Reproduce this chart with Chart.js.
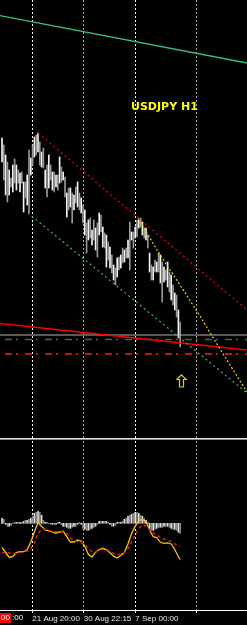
<!DOCTYPE html>
<html>
<head>
<meta charset="utf-8">
<title>USDJPY H1</title>
<script src="https://cdn.jsdelivr.net/npm/chart.js@4.4.1/dist/chart.umd.min.js"></script>
<style>
  html, body { margin: 0; padding: 0; background: #000; overflow: hidden; }
  #wrap { position: relative; width: 247px; height: 625px; background: #000; }
  #price { position: absolute; left: 0; top: 0; }
  #sep { position: absolute; left: 0; top: 438px; width: 247px; height: 1px; background: #e0e0e0; border-bottom: 1px solid #8c8c8c; }
  #osc { position: absolute; left: 0; top: 441px; }
</style>
</head>
<body>
<div id="wrap">
  <canvas id="price" width="247" height="438"></canvas>
  <div id="sep"></div>
  <canvas id="osc" width="247" height="184"></canvas>
</div>
<script>
// Price bars (H1), one per bar index
const highs = [78.910, 78.875, 78.825, 78.790, 78.750, 78.710, 78.775, 78.805, 78.775, 78.750,
  78.735, 78.740, 78.690, 78.690, 78.725, 78.850, 78.810, 78.875, 78.915, 78.925,
  78.935, 78.890, 78.840, 78.860, 78.750, 78.775, 78.825, 78.775, 78.740, 78.740,
  78.725, 78.725, 78.815, 78.765, 78.740, 78.715, 78.635, 78.660, 78.660, 78.635,
  78.625, 78.665, 78.690, 78.635, 78.610, 78.575, 78.550, 78.485, 78.500, 78.510,
  78.450, 78.500, 78.460, 78.485, 78.535, 78.525, 78.465, 78.435, 78.425, 78.390,
  78.365, 78.325, 78.275, 78.260, 78.310, 78.315, 78.325, 78.360, 78.350, 78.360,
  78.400, 78.490, 78.440, 78.440, 78.465, 78.500, 78.500, 78.510, 78.490, 78.460,
  78.460, 78.425, 78.335, 78.275, 78.265, 78.300, 78.290, 78.335, 78.325, 78.290,
  78.265, 78.250, 78.290, 78.240, 78.225, 78.175, 78.135, 78.125, 78.050, 77.990];
const lows = [78.790, 78.700, 78.625, 78.590, 78.625, 78.665, 78.640, 78.685, 78.650, 78.685,
  78.640, 78.685, 78.540, 78.610, 78.575, 78.535, 78.725, 78.775, 78.815, 78.825,
  78.840, 78.775, 78.765, 78.760, 78.660, 78.615, 78.660, 78.700, 78.650, 78.640,
  78.665, 78.650, 78.685, 78.690, 78.700, 78.615, 78.515, 78.550, 78.565, 78.485,
  78.550, 78.585, 78.565, 78.550, 78.535, 78.485, 78.425, 78.335, 78.400, 78.410,
  78.375, 78.400, 78.350, 78.315, 78.425, 78.440, 78.365, 78.360, 78.265, 78.300,
  78.260, 78.235, 78.200, 78.175, 78.215, 78.250, 78.260, 78.285, 78.290, 78.310,
  78.310, 78.250, 78.400, 78.360, 78.410, 78.415, 78.460, 78.465, 78.425, 78.410,
  78.400, 78.360, 78.240, 78.200, 78.200, 78.240, 78.240, 78.240, 78.185, 78.090,
  78.190, 78.200, 78.165, 78.140, 78.100, 78.075, 78.050, 78.015, 77.910, 77.865];

// Histogram (lower window), one per bar index
const histValues = [0.05, 0.04, -0.01, -0.03, -0.03, -0.02, 0.00, 0.01, 0.01, 0.01,
  0.01, 0.01, 0.02, 0.03, 0.03, 0.04, 0.05, 0.07, 0.10, 0.11,
  0.12, 0.11, 0.08, 0.03, 0.01, 0.01, 0.00, -0.01, -0.01, -0.01,
  -0.01, 0.01, 0.01, -0.01, -0.03, -0.03, -0.04, -0.05, -0.05, -0.04,
  -0.03, -0.03, -0.01, 0.01, -0.01, -0.05, -0.06, -0.07, -0.07, -0.06,
  -0.05, -0.04, -0.03, -0.01, 0.02, 0.02, 0.02, 0.02, 0.02, 0.01,
  -0.01, -0.03, -0.03, -0.02, 0.01, 0.01, 0.01, 0.02, 0.04, 0.05,
  0.07, 0.08, 0.09, 0.10, 0.11, 0.11, 0.10, 0.08, 0.07, 0.05,
  0.03, 0.01, -0.06, -0.07, -0.07, -0.06, -0.05, -0.04, -0.04, -0.04,
  -0.03, -0.03, -0.03, -0.04, -0.05, -0.06, -0.06, -0.07, -0.09, -0.10];

// Oscillator lines (lower window), sampled every second bar
const oscBars = [0, 2, 4, 6, 8, 10, 12, 14, 16, 18, 20, 22, 24, 26, 28, 30, 32, 34, 36, 38,
  40, 42, 44, 46, 48, 50, 52, 54, 56, 58, 60, 62, 64, 66, 68, 70, 72, 74, 76, 78,
  80, 82, 84, 86, 88, 90, 92, 94, 96, 98, 99];
const oscMain = [32.5, 27.5, 22.5, 23.5, 27.5, 28.3, 28.3, 30.5, 38, 48, 57.5, 53.5, 50, 49.2, 48,
  46.8, 48, 48.8, 43.3, 38, 38, 40, 39, 33.7, 25.5, 23, 27.8, 30.5, 31.7, 30.2,
  27.3, 23.8, 22, 24.4, 27.7, 36, 46.5, 53.7, 59.5, 60.6, 58.5, 50, 43.3, 42.5, 37.7,
  36.7, 37.2, 36, 30.5, 23.3, 20.5];
const oscSignal = [27, 28.2, 27, 26.7, 26.7, 27.3, 28, 29, 31.5, 37, 46.5, 51, 50.7, 49.5, 48.9,
  48.4, 48.3, 48, 46.7, 42, 39.4, 38.3, 38.3, 35, 31.5, 28.2, 28.2, 29.5, 30.6, 30.3,
  29, 26.6, 25.4, 25.5, 27.5, 31.2, 38, 45.5, 51.3, 55.2, 54, 50.3, 46.8, 45, 42.4,
  41, 39.7, 38.5, 36.2, 34.3, 33.3];

// Chart objects: [bar index, price]
const greenTrend = [[-1.11, 79.522], [136.11, 79.285]];
const redChannel = [[20, 78.935], [136.11, 78.05]];
const greenChannel = [[14.4, 78.535], [136.11, 77.635]];
const yellowCurve = [[75.6, 78.51], [87.8, 78.325], [98.9, 78.175], [110, 78.02], [121.1, 77.855], [136.11, 77.64]];
const redTrend = [[-1.11, 77.982], [136.11, 77.85]];
const grayLevel = 77.925;
const greenLevel = 77.9025;
const redLevel = 77.83;
const arrowMark = [99.7, 77.695];

// Time axis
const gridBars = [16.83, 45.39, 74.06, 108.17];
const timeLabels = ['21 Aug 20:00', '30 Aug 22:15', '7 Sep 00:00', ''];

const xMin = -1.111, xMax = 136.111;
const gridColors = ['#ffffff', '#a8a8a8', '#ffffff', '#a8a8a8'];

const toXY = pts => pts.map(p => ({ x: p[0], y: p[1] }));

function lineSet(pts, color, width, dash) {
  return {
    type: 'line', data: toXY(pts), borderColor: color, borderWidth: width,
    borderDash: dash || [], pointRadius: 0, fill: false, tension: 0, order: 1
  };
}

// hollow up arrow used as a point style
const arrowImg = document.createElement('canvas');
arrowImg.width = 11; arrowImg.height = 14;
(function () {
  const g = arrowImg.getContext('2d');
  g.strokeStyle = '#e8cc00';
  g.lineWidth = 1.2;
  g.beginPath();
  g.moveTo(5.5, 0.8); g.lineTo(10.2, 5.5); g.lineTo(7.5, 5.5); g.lineTo(7.5, 13);
  g.lineTo(3.5, 13); g.lineTo(3.5, 5.5); g.lineTo(0.8, 5.5); g.closePath();
  g.stroke();
})();

const titleLabel = {
  id: 'titleLabel',
  afterDatasetsDraw(chart) {
    const ctx = chart.ctx;
    ctx.save();
    ctx.font = 'bold 11px "DejaVu Sans"';
    ctx.fillStyle = '#ffff00';
    ctx.textBaseline = 'alphabetic';
    ctx.fillText('USDJPY H1', 131, 110);
    ctx.restore();
  }
};

const cornerLabel = {
  id: 'cornerLabel',
  afterDraw(chart) {
    const ctx = chart.ctx;
    const y = chart.chartArea.bottom;
    ctx.save();
    ctx.fillStyle = '#ff0000';
    ctx.fillRect(0, y + 3, 11, 10);
    ctx.font = '8px "Liberation Sans"';
    ctx.fillStyle = '#ffffff';
    ctx.textBaseline = 'top';
    ctx.fillText('00', 1, y + 4);
    ctx.fillText(':00', 12, y + 4);
    ctx.restore();
  }
};

const gridX = {
  type: 'linear', min: xMin, max: xMax, offset: false,
  afterBuildTicks: s => { s.ticks = gridBars.map(v => ({ value: v })); },
  grid: { color: ctx => gridColors[ctx.index] || '#ffffff', lineWidth: 1, offset: false },
  border: { display: false, dash: [2, 2] }
};

// Price window
new Chart(document.getElementById('price'), {
  type: 'bar',
  data: {
    datasets: [
      {
        type: 'bar',
        data: highs.map((h, i) => ({ x: i, y: [lows[i], h] })),
        backgroundColor: highs.map((h, i) => i % 2 ? '#9a9a9a' : '#f4f4f4'),
        borderWidth: 0, barThickness: 1, order: 5
      },
      lineSet(greenTrend, '#33c27a', 1.3),
      lineSet(redChannel, '#e00000', 1.3, [2, 3]),
      lineSet(greenChannel, '#3cb371', 1.2, [2, 3]),
      lineSet(yellowCurve, '#f0d000', 1.2, [2, 2]),
      lineSet(redTrend, '#ff0000', 1.5),
      lineSet([[xMin, grayLevel], [xMax, grayLevel]], '#b4b4b4', 1),
      lineSet([[1.67, greenLevel], [xMax, greenLevel]], '#2a7a2a', 1.5, [7, 4, 2, 7]),
      lineSet([[1.67, redLevel], [xMax, redLevel]], '#ff1a1a', 1.5, [7, 4, 2, 7]),
      {
        type: 'line', data: [{ x: arrowMark[0], y: arrowMark[1] }], showLine: false,
        pointStyle: arrowImg, pointRadius: 6, order: 0
      }
    ]
  },
  options: {
    responsive: false, animation: false, maintainAspectRatio: false,
    layout: { padding: 0, autoPadding: false },
    plugins: { legend: { display: false }, tooltip: { enabled: false } },
    scales: {
      x: Object.assign({}, gridX, {
        afterFit: s => { s.height = 0; },
        ticks: { display: false },
        grid: Object.assign({}, gridX.grid, { drawTicks: false })
      }),
      y: { display: false, min: 77.41, max: 79.60 }
    }
  },
  plugins: [titleLabel]
});

// Indicator window
new Chart(document.getElementById('osc'), {
  type: 'bar',
  data: {
    datasets: [
      {
        type: 'bar', yAxisID: 'yh',
        data: histValues.map((v, i) => ({ x: i, y: v })),
        backgroundColor: histValues.map((v, i) => i % 2 ? '#8c8c8c' : '#e0e0e0'),
        borderWidth: 0, barThickness: 1, order: 3
      },
      {
        type: 'line', yAxisID: 'yo',
        data: oscBars.map((b, i) => ({ x: b, y: oscMain[i] })),
        borderColor: '#f0c800', borderWidth: 1.3, pointRadius: 0, tension: 0, order: 2
      },
      {
        type: 'line', yAxisID: 'yo',
        data: oscBars.map((b, i) => ({ x: b, y: oscSignal[i] })),
        borderColor: '#ff1010', borderWidth: 1.5, borderDash: [3, 3], pointRadius: 0, tension: 0, order: 1
      }
    ]
  },
  options: {
    responsive: false, animation: false, maintainAspectRatio: false,
    layout: { padding: 0, autoPadding: false },
    plugins: { legend: { display: false }, tooltip: { enabled: false } },
    scales: {
      x: Object.assign({}, gridX, {
        afterFit: s => { s.height = 15; },
        ticks: {
          autoSkip: false, maxRotation: 0, minRotation: 0, align: 'start', padding: 1,
          color: '#e8e8e8', font: { family: 'Liberation Sans', size: 8 },
          callback: (v, i) => timeLabels[i]
        },
        grid: Object.assign({}, gridX.grid, { drawTicks: true, tickLength: 3, tickColor: '#ffffff' }),
        border: { display: true, color: '#ffffff', width: 1, dash: [2, 2] }
      }),
      yh: { display: false, min: -0.867, max: 0.823 },
      yo: { display: false, min: -30, max: 139 }
    }
  },
  plugins: [cornerLabel]
});
</script>
</body>
</html>
